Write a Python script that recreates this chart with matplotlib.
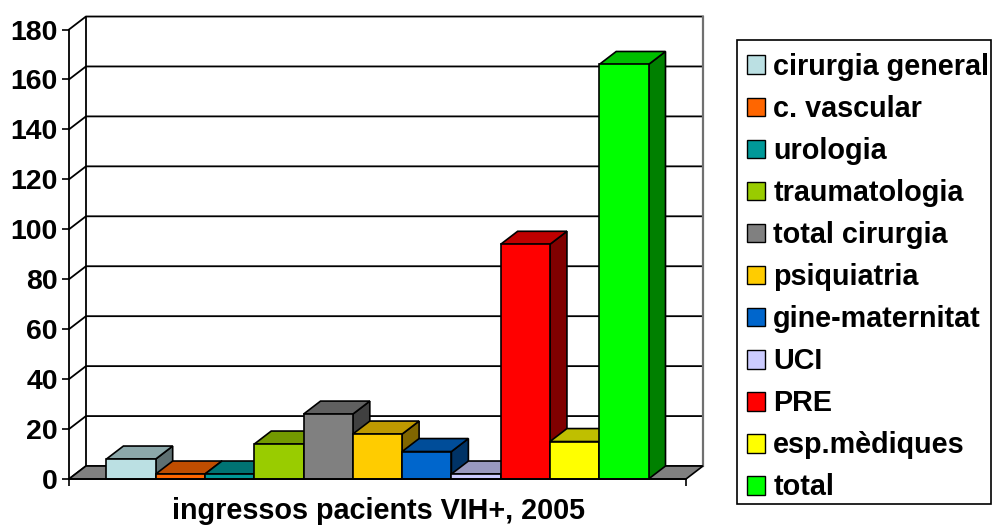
import matplotlib
matplotlib.use("Agg")
import matplotlib.pyplot as plt
from matplotlib.patches import Polygon, Patch, Rectangle
from matplotlib.colors import to_rgb

categories = ["cirurgia general", "c. vascular", "urologia", "traumatologia", "total cirurgia",
              "psiquiatria", "gine-maternitat", "UCI", "PRE", "esp.mèdiques", "total"]
values = [8, 2, 2, 14, 26, 18, 11, 2, 94, 15, 166]
colors = ["#BBE0E3", "#FF6600", "#009999", "#99CC00", "#808080", "#FFCC00",
          "#0066CC", "#CCCCFF", "#FF0000", "#FFFF00", "#00FF00"]
y_ticks = [0, 20, 40, 60, 80, 100, 120, 140, 160, 180]
xlabel = "ingressos pacients VIH+, 2005"

plt.rcParams["font.family"] = ["Liberation Sans", "DejaVu Sans"]
plt.rcParams["font.weight"] = "bold"

W, H = 992, 525
FS = 20.5
fig = plt.figure(figsize=(W / 100, H / 100), dpi=100)
# front plane of the 3d box, in pixels
ax = fig.add_axes([69 / W, (H - 479) / H, (686 - 69) / W, 449.5 / H])

margin = 0.76
ax.set_xlim(-margin, len(values) + margin)
ax.set_ylim(0, 180)

# 3d depth in data units (17 px across, 13 px up)
dx = 0.344
dy = 5.2
x0, x1 = ax.get_xlim()
line = dict(color="black", lw=1.3, clip_on=False)


def shade(col, k):
    return tuple(c * k for c in to_rgb(col))


def poly(pts, fc, z):
    ax.add_patch(Polygon(pts, closed=True, fc=fc, ec="black", lw=1.2, clip_on=False,
                         joinstyle="miter", zorder=z))


# walls
for t in y_ticks:
    ax.plot([x0, x0 + dx, x1 + dx], [t, t + dy, t + dy], zorder=1, **line)
ax.plot([x0 + dx, x0 + dx], [dy, 180 + dy], zorder=1, **line)
ax.plot([x1 + dx, x1 + dx], [dy, 180 + dy], color="#707070", lw=1.6, clip_on=False, zorder=1)

# floor
poly([(x0, 0), (x0 + dx, dy), (x1 + dx, dy), (x1, 0)], "#808080", 2)

# columns, left to right so each one hides the side of the previous
for i, (v, col) in enumerate(zip(values, colors)):
    z = 3 + i
    poly([(i + 1, 0), (i + 1 + dx, dy), (i + 1 + dx, v + dy), (i + 1, v)], shade(col, 0.5), z)
    poly([(i, v), (i + dx, v + dy), (i + 1 + dx, v + dy), (i + 1, v)], shade(col, 0.75), z)
    poly([(i, 0), (i, v), (i + 1, v), (i + 1, 0)], col, z)

for s in ["top", "right"]:
    ax.spines[s].set_visible(False)
for s in ["left", "bottom"]:
    ax.spines[s].set_linewidth(1.3)
    ax.spines[s].set_zorder(20)

ax.set_yticks(y_ticks)
ax.set_yticklabels([str(t) for t in y_ticks], fontsize=FS, fontweight="bold")
ax.tick_params(axis="y", length=5, width=1.2, pad=3)
ax.set_xticks([x0, x1])
ax.set_xticklabels([])
ax.tick_params(axis="x", length=5, width=1.2)
ax.set_xlabel(xlabel, fontsize=20.7, fontweight="bold")
ax.xaxis.set_label_coords((378.5 - 69) / (686 - 69), -18 / 449.5)

# legend box is drawn apart so its padding can differ from the entries
fig.add_artist(Rectangle((737 / W, 1 - 504 / H), 254 / W, 464 / H, transform=fig.transFigure,
                         fc="white", ec="black", lw=1.2))
handles = [Patch(fc=c, ec="black", lw=1.0) for c in colors]
fig.legend(handles, categories, loc="upper left", bbox_to_anchor=(747 / W, 1 - 53 / H),
           frameon=False, borderaxespad=0, borderpad=0, handlelength=0.63, handleheight=0.63,
           handletextpad=0.285, labelspacing=0.488, prop={"weight": "bold", "size": 20.7})

fig.savefig("out.png", dpi=100)
